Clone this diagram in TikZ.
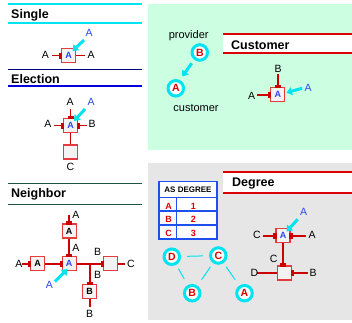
\documentclass[tikz,border=0pt]{standalone}
\usepackage{fontspec}
\setmainfont{Liberation Sans}
\usetikzlibrary{arrows.meta,calc}
\definecolor{wirered}{RGB}{204,0,0}
\definecolor{boxred}{RGB}{228,60,60}
\definecolor{boxfill}{RGB}{243,243,243}
\definecolor{cyanc}{RGB}{0,228,240}
\definecolor{ablue}{RGB}{40,70,240}
\definecolor{circred}{RGB}{220,0,0}
\definecolor{mint}{RGB}{204,255,226}
\definecolor{panelgray}{RGB}{230,230,230}
\definecolor{navyline}{RGB}{0,0,130}
\definecolor{blueline}{RGB}{0,0,220}
\definecolor{greenline}{RGB}{30,85,65}
\definecolor{tblue}{RGB}{30,80,240}
\newcommand{\portW}[1]{\fill[wirered] ([shift={(-2pt,-3pt)}]#1.west) rectangle ++(3.2pt,6pt);}
\newcommand{\portE}[1]{\fill[wirered] ([shift={(-1.2pt,-3pt)}]#1.east) rectangle ++(3.2pt,6pt);}
\newcommand{\portN}[1]{\fill[wirered] ([shift={(-3pt,-1.2pt)}]#1.north) rectangle ++(6pt,3.2pt);}
\begin{document}
\begin{tikzpicture}[x=1pt,y=-1pt,
  box/.style={draw=boxred, fill=boxfill, line width=1.2pt, minimum width=14pt, minimum height=14pt, inner sep=0pt, font=\bfseries\fontsize{9}{10}\selectfont},
  wire/.style={draw=wirered, line width=1.9pt},
  lbl/.style={font=\fontsize{10.5}{11}\selectfont, inner sep=0pt},
  blbl/.style={lbl, text=ablue},
  carrow/.style={draw=cyanc, line width=3pt, -{Triangle[length=5.5pt,width=8pt]}},
  circ/.style={circle, draw=cyanc, line width=3pt, fill=white, minimum size=15.5pt, inner sep=0pt, text=circred, font=\bfseries\fontsize{10.5}{11}\selectfont},
  ttl/.style={font=\bfseries\fontsize{12.5}{13}\selectfont, anchor=base west, inner sep=0pt},
  txt/.style={font=\fontsize{11}{12}\selectfont, inner sep=0pt},
  tline/.style={line width=1.3pt},
  glink/.style={draw=cyanc, line width=1pt}
]
\useasboundingbox (0,0) rectangle (352,322);
\fill[white] (0,0) rectangle (352,322);
% panels
\fill[mint] (148,4) rectangle (352,150);
\fill[panelgray] (148,163) rectangle (352,320);

% ---------- Single ----------
\draw[tline, cyanc] (8,4) -- (142,4);
\draw[tline, cyanc] (8,23) -- (142,23);
\node[ttl] (tsingle) at (11,18) {Single};
\node[box, text=ablue] (s1) at (68.5,55.5) {A};
\coordinate (s1l) at (52,55.5);
\coordinate (s1r) at (85,55.5);
\node[lbl] (s1la) at (45.5,55) {A};
\node[lbl] (s1ra) at (91,55) {A};
\draw[wire] (s1l) -- (s1.west);
\draw[wire] (s1.east) -- (s1r);
\portW{s1}
\node[blbl] (s1ba) at (89,33) {A};
\coordinate (s1as) at (84,40);
\coordinate (s1at) at (72.5,51);
\draw[carrow] (s1as) -- (s1at);

% ---------- Election ----------
\draw[tline, navyline] (8,69.5) -- (142,69.5);
\draw[tline, blueline] (8,86) -- (142,86);
\node[ttl] (telec) at (11,83.5) {Election};
\node[box, text=ablue] (e1) at (70.5,125.5) {A};
\node[box] (e2) at (70.5,152) {};
\coordinate (e1t) at (70.5,109);
\coordinate (e1l) at (54,125.5);
\coordinate (e1r) at (86.5,125.5);
\draw[wire] (e1t) -- (e1.north);
\draw[wire] (e1l) -- (e1.west);
\draw[wire] (e1.east) -- (e1r);
\draw[wire] (e1.south) -- (e2.north);
\portW{e1}\portN{e1}\portE{e1}
\node[lbl] (e1ta) at (70,101.5) {A};
\node[lbl] (e1la) at (48,124) {A};
\node[lbl] (e1rb) at (92,124) {B};
\node[lbl] (e2c) at (70.5,167) {C};
\node[blbl] (e1ba) at (91,101.5) {A};
\coordinate (e1as) at (85,109);
\coordinate (e1at) at (74,121);
\draw[carrow] (e1as) -- (e1at);

% ---------- Neighbor ----------
\draw[tline, greenline] (8,183.5) -- (142,183.5);
\draw[tline, greenline] (8,204.5) -- (142,204.5);
\node[ttl] (tneigh) at (11,197.5) {Neighbor};
\node[box, text=ablue] (n0) at (69.2,263.7) {A};
\node[box] (n1) at (69.2,231) {A};
\node[box] (n2) at (37.5,263.7) {A};
\node[box] (n3) at (110.7,263.7) {};
\node[box] (n4) at (89.7,291.3) {B};
\coordinate (n1t) at (69.2,215);
\coordinate (n2l) at (22,263.7);
\coordinate (n3r) at (125,263.7);
\coordinate (nj) at (89.7,263.7);
\coordinate (n4b) at (89.7,307);
\draw[wire] (n1t) -- (n1.north);
\draw[wire] (n1.south) -- (n0.north);
\draw[wire] (n2l) -- (n2.west);
\draw[wire] (n2.east) -- (n0.west);
\draw[wire] (n0.east) -- (n3.west);
\draw[wire] (nj) -- (n4.north);
\draw[wire] (n3.east) -- (n3r);
\draw[wire] (n4.south) -- (n4b);
\portN{n1}\portN{n0}\portW{n2}\portW{n0}\portW{n3}\portN{n4}
\node[lbl] (nl1) at (76,215) {A};
\node[lbl] (nl2) at (76,247.5) {A};
\node[lbl] (nl3) at (19,264) {A};
\node[lbl] (nl4) at (131,264) {C};
\node[lbl] (nl5) at (97.5,252) {B};
\node[lbl] (nl6) at (97.5,275) {B};
\node[lbl] (nl7) at (89.7,313.5) {B};
\node[blbl] (nl8) at (49.5,284.5) {A};
\coordinate (nas) at (55,281.5);
\coordinate (nat) at (67.5,269);
\draw[carrow] (nas) -- (nat);

% ---------- Customer (green) ----------
\node[txt, anchor=base] (prov) at (188.7,38.5) {provider};
\node[circ] (pB) at (199.8,52.5) {B};
\node[circ] (pA) at (175.8,88.3) {A};
\node[txt, anchor=base] (cust) at (196,111) {customer};
\coordinate (pas) at (191.7,63.3);
\coordinate (pat) at (182.3,76.5);
\draw[carrow] (pas) -- (pat);

\fill[white] (223,34) rectangle (352,53);
\draw[tline, circred] (223,34) -- (352,34);
\draw[tline, circred] (223,53) -- (352,53);
\node[ttl] (tcust) at (231,49) {Customer};
\node[box, text=ablue] (c1) at (277.8,94.8) {A};
\coordinate (c1t) at (277.8,74);
\coordinate (c1l) at (256.7,94.8);
\draw[wire] (c1t) -- (c1.north);
\draw[wire] (c1l) -- (c1.west);
\portN{c1}\portW{c1}
\node[lbl] (c1b) at (278,69) {B};
\node[lbl] (c1a) at (251.7,95.5) {A};
\node[blbl] (c1ba) at (308,87.5) {A};
\coordinate (cas) at (302,88.3);
\coordinate (cat) at (286.5,92.7);
\draw[carrow] (cas) -- (cat);

% ---------- Degree (gray) ----------
\fill[white] (223,172) rectangle (352,193);
\draw[tline, circred] (223,172) -- (352,172);
\draw[tline, circred] (223,193) -- (352,193);
\node[ttl] (tdeg) at (232,186.5) {Degree};

% table
\fill[white] (159,181.5) rectangle (217,239);
\draw[tblue, line width=1.4pt] (159,181.5) rectangle (217,239);
\draw[tblue, line width=1.4pt] (159,197.3) -- (217,197.3);
\draw[tblue, line width=1.4pt] (159,211) -- (217,211);
\draw[tblue, line width=1.4pt] (159,225) -- (217,225);
\draw[tblue, line width=1.4pt] (176.5,197.3) -- (176.5,239);
\node[font=\bfseries\fontsize{8}{9}\selectfont, inner sep=0pt] (th) at (188,189.5) {AS DEGREE};
\node[font=\bfseries\fontsize{9}{10}\selectfont, text=circred, inner sep=0pt] (r1a) at (168.5,206) {A};
\node[font=\bfseries\fontsize{9}{10}\selectfont, text=circred, inner sep=0pt] (r1b) at (193.3,206) {1};
\node[font=\bfseries\fontsize{9}{10}\selectfont, text=circred, inner sep=0pt] (r2a) at (168.5,219.5) {B};
\node[font=\bfseries\fontsize{9}{10}\selectfont, text=circred, inner sep=0pt] (r2b) at (193.3,219.5) {2};
\node[font=\bfseries\fontsize{9}{10}\selectfont, text=circred, inner sep=0pt] (r3a) at (168.5,233) {C};
\node[font=\bfseries\fontsize{9}{10}\selectfont, text=circred, inner sep=0pt] (r3b) at (193.3,233) {3};

% graph
\node[circ] (gD) at (171.8,256.7) {D};
\node[circ] (gC) at (218.3,255.5) {C};
\node[circ] (gB) at (192.2,293.2) {B};
\node[circ] (gA) at (244.5,293.2) {A};
\draw[glink, shorten <=6pt, shorten >=6pt] (gD) -- (gC);
\draw[glink, shorten <=4.5pt, shorten >=7pt] (gD) -- (gB);
\draw[glink, shorten <=4.5pt, shorten >=7pt] (gC) -- (gB);
\draw[glink, shorten <=4.5pt, shorten >=7pt] (gC) -- (gA);

% degree diagram
\node[box, text=ablue] (d1) at (283,235.8) {A};
\node[box] (d2) at (284.3,273) {};
\coordinate (d1l) at (262.7,235.8);
\coordinate (d1r) at (306,235.8);
\coordinate (d2l) at (257.3,273);
\coordinate (d2r) at (308,273);
\draw[wire] (d1l) -- (d1.west);
\draw[wire] (d1.east) -- (d1r);
\draw[wire] (d1.south) -- (d1.south |- d2.north);
\draw[wire] (d2l) -- (d2.west);
\draw[wire] (d2.east) -- (d2r);
\portW{d1}\portE{d1}\portE{d2}
\fill[wirered] ([shift={(-4.3pt,-1.2pt)}]d2.north) rectangle ++(6pt,3.2pt);
\node[lbl] (dl1) at (257,235) {C};
\node[lbl] (dl2) at (312,235) {A};
\node[lbl] (dl3) at (273.7,258.5) {C};
\node[lbl] (dl4) at (254.5,272.5) {D};
\node[lbl] (dl5) at (313,272.5) {B};
\node[blbl] (dl6) at (303.7,211.5) {A};
\coordinate (das) at (297.7,219.3);
\coordinate (dat) at (286.5,231.5);
\draw[carrow] (das) -- (dat);
\end{tikzpicture}
\end{document}
